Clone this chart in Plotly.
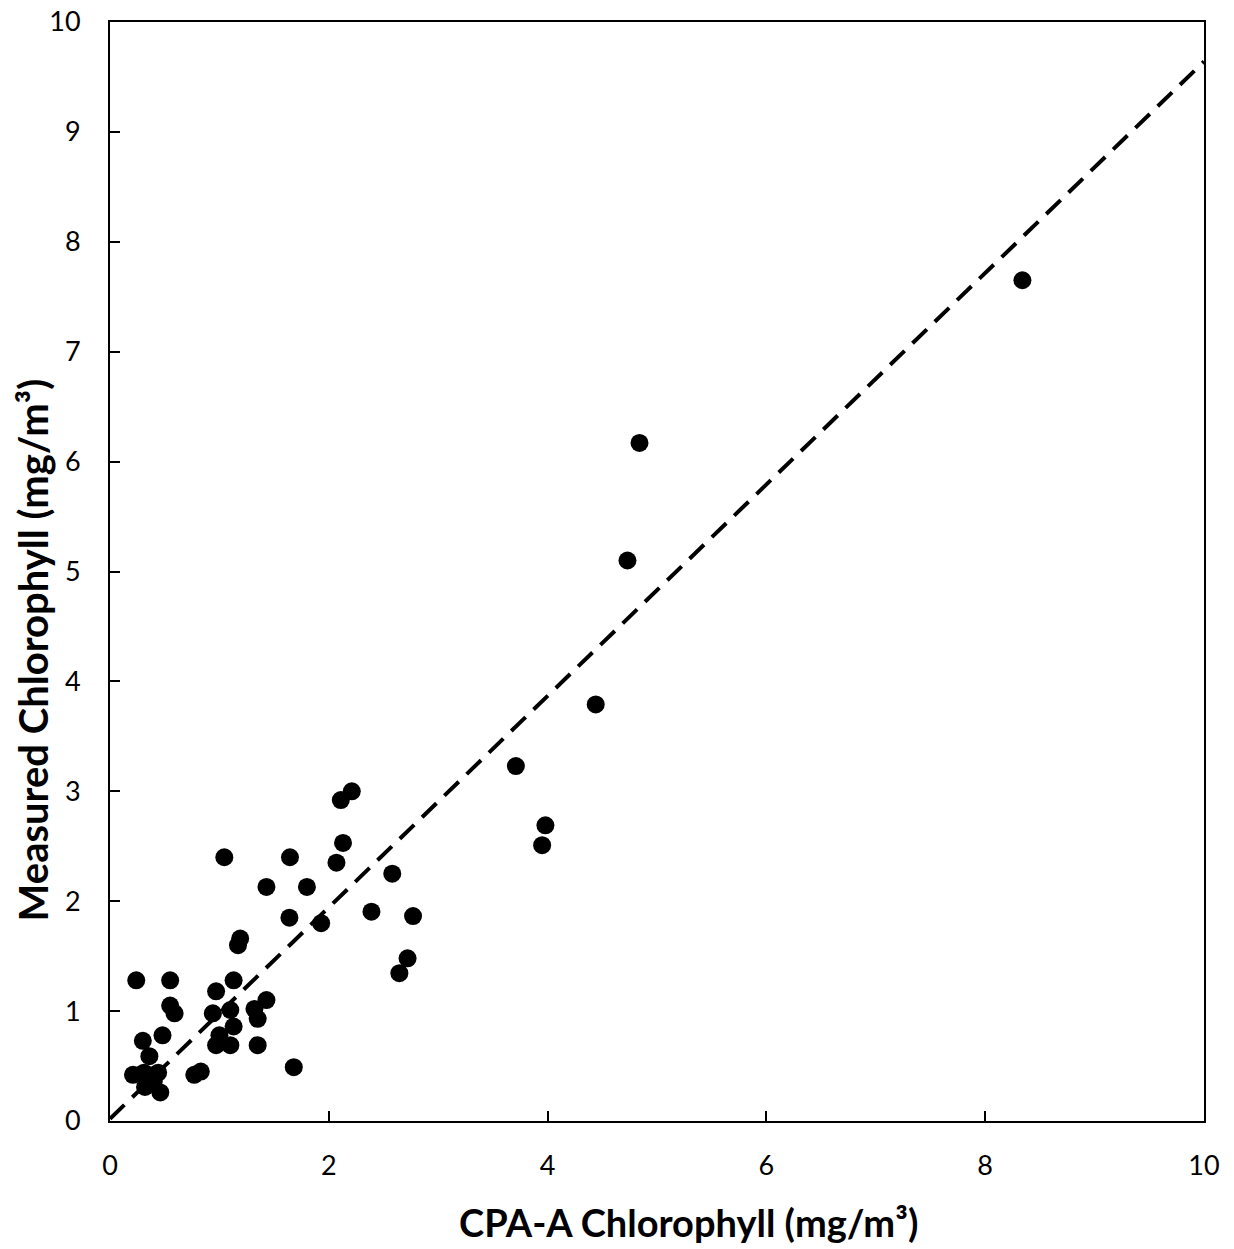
import plotly.graph_objects as go

# CPA-A chlorophyll vs measured chlorophyll (mg/m^3)
cpa_a = [8.34, 4.84, 4.73, 4.44, 3.71, 3.98, 3.95,
         2.21, 2.11, 2.13, 2.07, 1.645, 1.045, 1.43, 1.80, 2.58,
         2.39, 2.77, 1.64, 1.93, 1.19, 1.17, 2.72, 2.645,
         0.24, 0.55, 1.13, 0.97, 1.43, 0.55, 0.59, 0.94, 1.10, 1.32, 1.35,
         1.13, 1.00, 0.97, 1.10, 1.35, 0.48, 0.30, 0.36, 1.68, 0.77, 0.83,
         0.21, 0.31, 0.44, 0.40, 0.32, 0.46]
measured = [7.65, 6.17, 5.10, 3.79, 3.23, 2.69, 2.51,
            3.00, 2.92, 2.53, 2.35, 2.40, 2.40, 2.13, 2.13, 2.25,
            1.905, 1.865, 1.85, 1.80, 1.66, 1.60, 1.48, 1.345,
            1.28, 1.28, 1.28, 1.18, 1.10, 1.05, 0.98, 0.98, 1.01, 1.02, 0.93,
            0.86, 0.78, 0.69, 0.69, 0.69, 0.78, 0.73, 0.59, 0.49, 0.42, 0.45,
            0.42, 0.44, 0.44, 0.36, 0.31, 0.26]

# linear trend line drawn over the full axis range
fit_slope = 0.962
fit_intercept = 0.02
fit_x = [0, 10]
fit_y = [fit_slope * v + fit_intercept for v in fit_x]

x_title = '<b>CPA-A Chlorophyll (mg/m³)</b>'
y_title = '<b>Measured Chlorophyll (mg/m³)</b>'

font_family = "Lato, 'Open Sans', sans-serif"

fig = go.Figure()
fig.add_trace(go.Scatter(x=fit_x, y=fit_y, mode='lines',
                         line=dict(color='black', width=4, dash='20px,11px'),
                         showlegend=False, hoverinfo='skip'))
fig.add_trace(go.Scatter(x=cpa_a, y=measured, mode='markers',
                         marker=dict(color='black', size=18),
                         showlegend=False))

axis_style = dict(range=[0, 10], showgrid=False, zeroline=False, automargin=False,
                  showline=True, linecolor='black', linewidth=2, mirror=True,
                  ticks='inside', ticklen=10, tickwidth=2, tickcolor='black',
                  ticklabeloverflow='allow',
                  tickfont=dict(size=27, color='black', family=font_family))

fig.update_xaxes(**axis_style, dtick=2, ticklabelstandoff=20)
fig.update_yaxes(**axis_style, dtick=1, ticklabelstandoff=22)

# axis titles sit off-centre in the original, so they are placed as annotations
fig.add_annotation(text=x_title, xref='paper', yref='paper', x=0.529, y=-0.092,
                   xanchor='center', yanchor='middle', showarrow=False,
                   font=dict(size=38, color='black', family=font_family))
fig.add_annotation(text=y_title, xref='paper', yref='paper', x=-0.070, y=0.4286,
                   xanchor='center', yanchor='middle', showarrow=False, textangle=-90,
                   borderpad=0, font=dict(size=40, color='black', family=font_family))

# the page adds an 8px body margin, so margins are trimmed to keep the plot box in place
fig.update_layout(width=1234, height=1249,
                  margin=dict(l=102, r=38, t=14, b=136),
                  plot_bgcolor='white', paper_bgcolor='white')

fig.write_html("out.html")
